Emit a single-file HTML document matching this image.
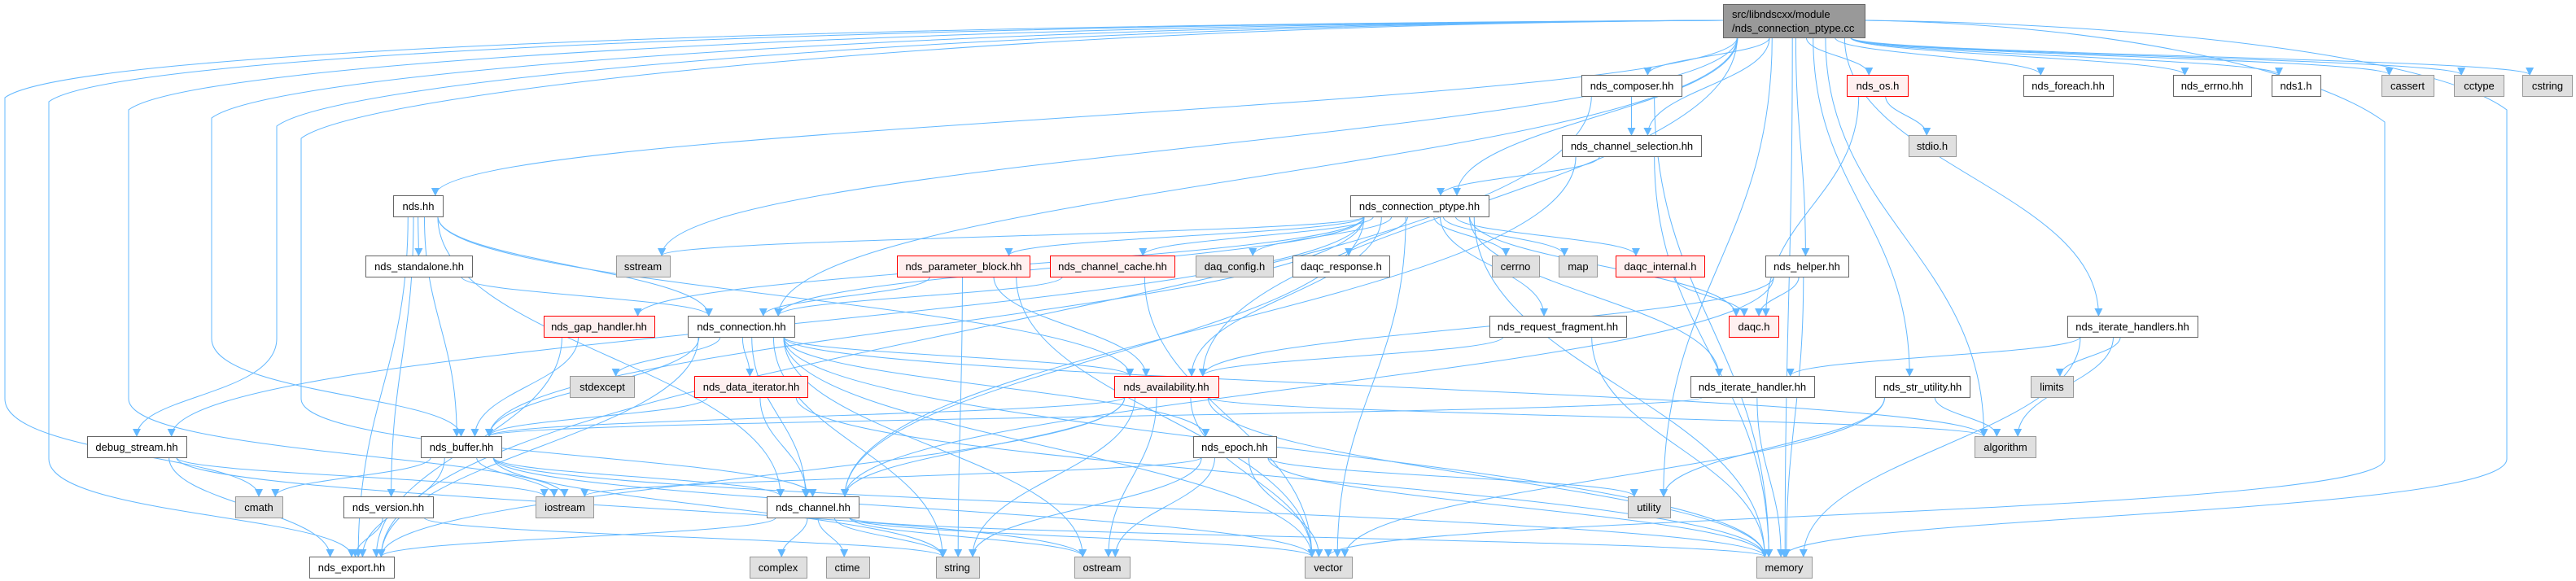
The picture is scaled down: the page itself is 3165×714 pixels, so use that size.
<!DOCTYPE html>
<html><head><meta charset="utf-8">
<style>
html,body{margin:0;padding:0;background:#fff;}
svg{display:block;}
text{font-family:"Liberation Sans",Arial,sans-serif;font-size:13px;fill:#000;}
</style></head>
<body>
<svg id="g" width="3165" height="714" viewBox="0 0 3165 714" xmlns="http://www.w3.org/2000/svg">
<defs>
<marker id="ah" viewBox="0 0 10 10" refX="9" refY="5" markerWidth="10" markerHeight="10" markerUnits="userSpaceOnUse" orient="auto">
<path d="M0,0 L10,5 L0,10 z" fill="#63b8ff"/>
</marker>
</defs>
<g id="edges" fill="none" stroke="#63b8ff" stroke-width="1"></g>
<g id="nodes" stroke-width="1">
<rect x="2117.5" y="5.5" width="174" height="41" fill="#999999" stroke="#666666"/>
<text x="2128" y="22">src/libndscxx/module</text>
<text x="2128" y="39">/nds_connection_ptype.cc</text>

<rect x="1943.5" y="92.5" width="123" height="26" fill="#fff" stroke="#666"/><text x="2005" y="110" text-anchor="middle">nds_composer.hh</text>
<rect x="2269.5" y="92.5" width="75" height="26" fill="#fff0f0" stroke="#ff0000"/><text x="2307" y="110" text-anchor="middle">nds_os.h</text>
<rect x="2486.5" y="92.5" width="110" height="26" fill="#fff" stroke="#666"/><text x="2541" y="110" text-anchor="middle">nds_foreach.hh</text>
<rect x="2670.5" y="92.5" width="96" height="26" fill="#fff" stroke="#666"/><text x="2718" y="110" text-anchor="middle">nds_errno.hh</text>
<rect x="2791.5" y="92.5" width="60" height="26" fill="#fff" stroke="#666"/><text x="2821" y="110" text-anchor="middle">nds1.h</text>
<rect x="2926.5" y="92.5" width="64" height="26" fill="#e0e0e0" stroke="#999"/><text x="2958" y="110" text-anchor="middle">cassert</text>
<rect x="3015.5" y="92.5" width="61" height="26" fill="#e0e0e0" stroke="#999"/><text x="3046" y="110" text-anchor="middle">cctype</text>
<rect x="3099.5" y="92.5" width="61" height="26" fill="#e0e0e0" stroke="#999"/><text x="3130" y="110" text-anchor="middle">cstring</text>

<rect x="1919.5" y="166.5" width="171" height="26" fill="#fff" stroke="#666"/><text x="2005" y="184" text-anchor="middle">nds_channel_selection.hh</text>
<rect x="2345.5" y="166.5" width="58" height="26" fill="#e0e0e0" stroke="#999"/><text x="2374" y="184" text-anchor="middle">stdio.h</text>

<rect x="483.5" y="240.5" width="61" height="26" fill="#fff" stroke="#666"/><text x="514" y="258" text-anchor="middle">nds.hh</text>
<rect x="1659.5" y="240.5" width="170" height="26" fill="#fff" stroke="#666"/><text x="1744" y="258" text-anchor="middle">nds_connection_ptype.hh</text>

<rect x="449.5" y="314.5" width="131" height="26" fill="#fff" stroke="#666"/><text x="515" y="332" text-anchor="middle">nds_standalone.hh</text>
<rect x="757.5" y="314.5" width="66" height="26" fill="#e0e0e0" stroke="#999"/><text x="790" y="332" text-anchor="middle">sstream</text>
<rect x="1102.5" y="314.5" width="163" height="26" fill="#fff0f0" stroke="#ff0000"/><text x="1184" y="332" text-anchor="middle">nds_parameter_block.hh</text>
<rect x="1290.5" y="314.5" width="153" height="26" fill="#fff0f0" stroke="#ff0000"/><text x="1367" y="332" text-anchor="middle">nds_channel_cache.hh</text>
<rect x="1469.5" y="314.5" width="95" height="26" fill="#e0e0e0" stroke="#999"/><text x="1517" y="332" text-anchor="middle">daq_config.h</text>
<rect x="1588.5" y="314.5" width="119" height="26" fill="#fff" stroke="#666"/><text x="1648" y="332" text-anchor="middle">daqc_response.h</text>
<rect x="1833.5" y="314.5" width="58" height="26" fill="#e0e0e0" stroke="#999"/><text x="1862" y="332" text-anchor="middle">cerrno</text>
<rect x="1915.5" y="314.5" width="47" height="26" fill="#e0e0e0" stroke="#999"/><text x="1939" y="332" text-anchor="middle">map</text>
<rect x="1985.5" y="314.5" width="109" height="26" fill="#fff0f0" stroke="#ff0000"/><text x="2040" y="332" text-anchor="middle">daqc_internal.h</text>
<rect x="2169.5" y="314.5" width="102" height="26" fill="#fff" stroke="#666"/><text x="2220" y="332" text-anchor="middle">nds_helper.hh</text>

<rect x="668.5" y="388.5" width="136" height="26" fill="#fff0f0" stroke="#ff0000"/><text x="736" y="406" text-anchor="middle">nds_gap_handler.hh</text>
<rect x="845.5" y="388.5" width="131" height="26" fill="#fff" stroke="#666"/><text x="911" y="406" text-anchor="middle">nds_connection.hh</text>
<rect x="1830.5" y="388.5" width="168" height="26" fill="#fff" stroke="#666"/><text x="1914" y="406" text-anchor="middle">nds_request_fragment.hh</text>
<rect x="2124.5" y="388.5" width="61" height="26" fill="#fff0f0" stroke="#ff0000"/><text x="2155" y="406" text-anchor="middle">daqc.h</text>
<rect x="2540.5" y="388.5" width="160" height="26" fill="#fff" stroke="#666"/><text x="2620" y="406" text-anchor="middle">nds_iterate_handlers.hh</text>

<rect x="700.5" y="462.5" width="79" height="26" fill="#e0e0e0" stroke="#999"/><text x="740" y="480" text-anchor="middle">stdexcept</text>
<rect x="853.5" y="462.5" width="139" height="26" fill="#fff0f0" stroke="#ff0000"/><text x="923" y="480" text-anchor="middle">nds_data_iterator.hh</text>
<rect x="1369.5" y="462.5" width="128" height="26" fill="#fff0f0" stroke="#ff0000"/><text x="1433" y="480" text-anchor="middle">nds_availability.hh</text>
<rect x="2077.5" y="462.5" width="152" height="26" fill="#fff" stroke="#666"/><text x="2153" y="480" text-anchor="middle">nds_iterate_handler.hh</text>
<rect x="2304.5" y="462.5" width="116" height="26" fill="#fff" stroke="#666"/><text x="2362" y="480" text-anchor="middle">nds_str_utility.hh</text>
<rect x="2495.5" y="462.5" width="52" height="26" fill="#e0e0e0" stroke="#999"/><text x="2521" y="480" text-anchor="middle">limits</text>

<rect x="107.5" y="536.5" width="122" height="26" fill="#fff" stroke="#666"/><text x="168" y="554" text-anchor="middle">debug_stream.hh</text>
<rect x="517.5" y="536.5" width="99" height="26" fill="#fff" stroke="#666"/><text x="567" y="554" text-anchor="middle">nds_buffer.hh</text>
<rect x="1466.5" y="536.5" width="102" height="26" fill="#fff" stroke="#666"/><text x="1517" y="554" text-anchor="middle">nds_epoch.hh</text>
<rect x="2426.5" y="536.5" width="75" height="26" fill="#e0e0e0" stroke="#999"/><text x="2464" y="554" text-anchor="middle">algorithm</text>

<rect x="289.5" y="610.5" width="58" height="26" fill="#e0e0e0" stroke="#999"/><text x="318" y="628" text-anchor="middle">cmath</text>
<rect x="422.5" y="610.5" width="110" height="26" fill="#fff" stroke="#666"/><text x="477" y="628" text-anchor="middle">nds_version.hh</text>
<rect x="658.5" y="610.5" width="71" height="26" fill="#e0e0e0" stroke="#999"/><text x="694" y="628" text-anchor="middle">iostream</text>
<rect x="942.5" y="610.5" width="113" height="26" fill="#fff" stroke="#666"/><text x="999" y="628" text-anchor="middle">nds_channel.hh</text>
<rect x="2000.5" y="610.5" width="52" height="26" fill="#e0e0e0" stroke="#999"/><text x="2026" y="628" text-anchor="middle">utility</text>

<rect x="380.5" y="684.5" width="104" height="26" fill="#fff" stroke="#666"/><text x="432" y="702" text-anchor="middle">nds_export.hh</text>
<rect x="921.5" y="684.5" width="70" height="26" fill="#e0e0e0" stroke="#999"/><text x="956" y="702" text-anchor="middle">complex</text>
<rect x="1015.5" y="684.5" width="53" height="26" fill="#e0e0e0" stroke="#999"/><text x="1041" y="702" text-anchor="middle">ctime</text>
<rect x="1150.5" y="684.5" width="53" height="26" fill="#e0e0e0" stroke="#999"/><text x="1176" y="702" text-anchor="middle">string</text>
<rect x="1320.5" y="684.5" width="68" height="26" fill="#e0e0e0" stroke="#999"/><text x="1354" y="702" text-anchor="middle">ostream</text>
<rect x="1603.5" y="684.5" width="58" height="26" fill="#e0e0e0" stroke="#999"/><text x="1632" y="702" text-anchor="middle">vector</text>
<rect x="2158.5" y="684.5" width="68" height="26" fill="#e0e0e0" stroke="#999"/><text x="2192" y="702" text-anchor="middle">memory</text>
</g>
</svg>
<script>
(function(){
var R=function(r){return r===0?5:92+(r-1)*74;};
var N={
main:[2117,2291,0],composer:[1943,2066,1],os:[2269,2344,1],foreach:[2486,2596,1],errno:[2670,2766,1],nds1:[2791,2851,1],cassert:[2926,2990,1],cctype:[3015,3076,1],cstring:[3099,3160,1],
chsel:[1919,2090,2],stdio:[2345,2403,2],
ndshh:[483,544,3],ptype:[1659,1829,3],
standalone:[449,580,4],sstream:[757,823,4],pblock:[1102,1265,4],chcache:[1290,1443,4],daqconfig:[1469,1564,4],daqcresp:[1588,1707,4],cerrno:[1833,1891,4],map:[1915,1962,4],daqcint:[1985,2094,4],helper:[2169,2271,4],
gap:[668,804,5],conn:[845,976,5],reqfrag:[1830,1998,5],daqc:[2124,2185,5],ihandlers:[2540,2700,5],
stdexcept:[700,779,6],diter:[853,992,6],avail:[1369,1497,6],ihandler:[2077,2229,6],strutil:[2304,2420,6],limits:[2495,2547,6],
debug:[107,229,7],buffer:[517,616,7],epoch:[1466,1568,7],algorithm:[2426,2501,7],
cmath:[289,347,8],version:[422,532,8],iostream:[658,729,8],channel:[942,1055,8],utility:[2000,2052,8],
xport:[380,484,9],complex:[921,991,9],ctime:[1015,1068,9],string:[1150,1203,9],ostream:[1320,1388,9],vector:[1603,1661,9],memory:[2158,2226,9]
};
var E=[
["main","composer"],["main","chsel"],["main","ptype"],["main","os"],["main","helper"],["main","foreach"],["main","errno"],["main","nds1"],["main","cassert"],["main","cctype"],["main","cstring"],["main","ihandlers"],["main","strutil"],["main","algorithm"],["main","utility"],["main","memory"],["main","sstream"],["main","ndshh"],["main","conn"],["main","avail"],
["composer","chsel"],["composer","xport"],["composer","memory"],
["chsel","ptype"],["chsel","channel"],["chsel","memory"],
["os","stdio"],["os","daqc"],
["ptype","sstream"],["ptype","daqconfig"],["ptype","daqcresp"],["ptype","cerrno"],["ptype","map"],["ptype","daqcint"],["ptype","daqc"],["ptype","pblock"],["ptype","chcache"],["ptype","reqfrag"],["ptype","ihandler"],["ptype","memory"],["ptype","vector"],["ptype","conn"],["ptype","avail"],["ptype","buffer"],["ptype","debug"],["ptype","channel"],["ptype","gap"],
["ndshh","standalone"],["ndshh","conn"],["ndshh","buffer"],["ndshh","channel"],["ndshh","avail"],["ndshh","xport"],["ndshh","version"],
["standalone","conn"],
["pblock","conn"],["pblock","string"],["pblock","vector"],["pblock","avail"],
["chcache","conn"],["chcache","vector"],
["daqcint","daqc"],
["helper","daqc"],["helper","avail"],["helper","memory"],["helper","channel"],
["gap","buffer"],["gap","xport"],
["conn","stdexcept"],["conn","diter"],["conn","avail"],["conn","epoch"],["conn","channel"],["conn","buffer"],["conn","xport"],["conn","string"],["conn","ostream"],["conn","memory"],["conn","vector"],["conn","algorithm"],
["reqfrag","avail"],["reqfrag","memory"],
["diter","buffer"],["diter","channel"],["diter","memory"],
["avail","buffer"],["avail","channel"],["avail","xport"],["avail","string"],["avail","ostream"],["avail","vector"],["avail","memory"],["avail","algorithm"],
["ihandler","buffer"],["ihandler","memory"],
["strutil","algorithm"],["strutil","vector"],["strutil","utility"],
["ihandlers","ihandler"],["ihandlers","limits"],["ihandlers","algorithm"],["ihandlers","memory"],
["debug","xport"],["debug","iostream"],["debug","ostream"],
["buffer","cmath"],["buffer","iostream"],["buffer","channel"],["buffer","xport"],["buffer","vector"],["buffer","memory"],["buffer","string"],
["epoch","iostream"],["epoch","utility"],["epoch","string"],["epoch","ostream"],["epoch","vector"],["epoch","memory"],
["version","xport"],["version","string"],
["channel","complex"],["channel","ctime"],["channel","string"],["channel","ostream"],["channel","vector"],["channel","memory"],["channel","xport"]
];
var V=[["cmath",6,60],["iostream",158,75],["buffer",260,85],["debug",340,95],["channel",370,110],["xport",60,65],["memory",3080,75],["vector",2930,90]];
var g=document.getElementById('edges'),ns='http://www.w3.org/2000/svg';
function add(d){var p=document.createElementNS(ns,'path');p.setAttribute('d',d);p.setAttribute('marker-end','url(#ah)');g.appendChild(p);}
function cxn(n){return (n[0]+n[1])/2;}
function topy(n){return R(n[2]);}
function boty(n){return n[2]===0?46:R(n[2])+26;}
E.forEach(function(e){
 var s=N[e[0]],t=N[e[1]];
 if(!s||!t)return;
 var sw=(s[1]-s[0]),tw=(t[1]-t[0]);
 var dx=cxn(t)-cxn(s);
 var sx=cxn(s)+Math.max(-sw*0.4,Math.min(sw*0.4,dx*0.15));
 var tx=cxn(t)+Math.max(-tw*0.35,Math.min(tw*0.35,-dx*0.1));
 var sy=boty(s),ty=topy(t);
 var h=ty-sy;
 add('M'+sx+','+sy+' C'+sx+','+(sy+h*0.45)+' '+tx+','+(ty-h*0.45)+' '+tx+','+ty);
});
V.forEach(function(v){
 var t=N[v[0]],vx=v[1],vy=v[2];
 var tx=cxn(t),ty=topy(t);
 var sx=vx<2117?2117:2291, sy=25;
 add('M'+sx+','+sy+' C'+((sx+vx)/2)+','+(sy+5)+' '+(vx<2117?vx+80:vx-80)+','+vy+' '+vx+','+(vy+60)+' L'+vx+','+(ty-120)+' C'+vx+','+(ty-50)+' '+tx+','+(ty-50)+' '+tx+','+ty);
});
})();
</script>
</body></html>
